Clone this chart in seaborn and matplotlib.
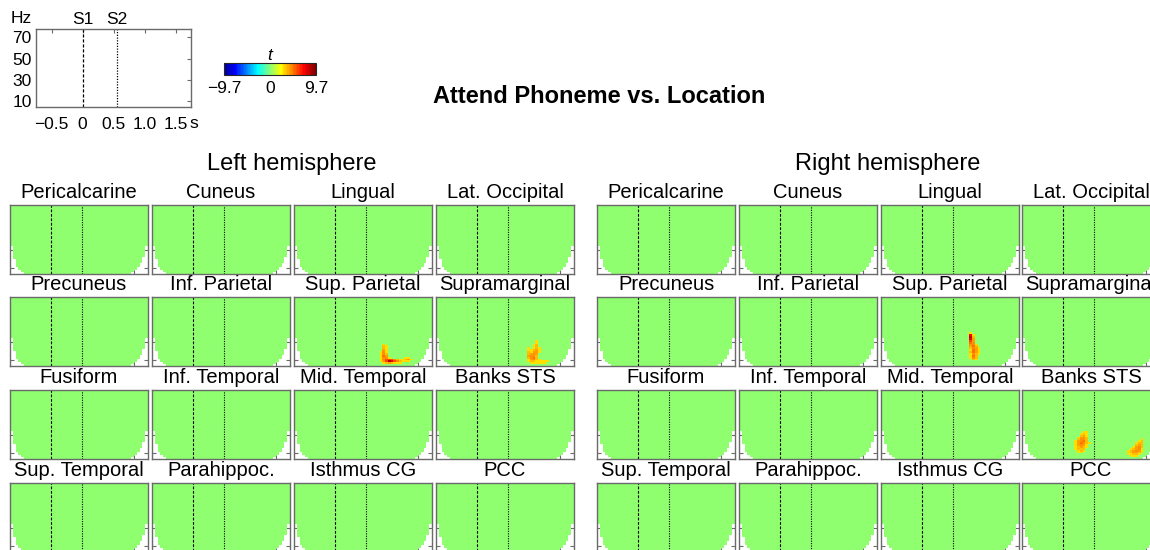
import numpy as np
import pandas as pd
import matplotlib
matplotlib.use("Agg")
import matplotlib.pyplot as plt
import seaborn as sns
from matplotlib.colors import ListedColormap, Normalize
from matplotlib.cm import ScalarMappable

# ---------------- data ----------------
t_start, t_stop, t_step = -0.75, 1.75, 0.05       # time axis (s)
f_start, f_stop, f_step = 4, 78, 2                # frequency axis (Hz)
time_ticks = [-0.5, 0, 0.5, 1.0, 1.5]
time_tick_labels = ["\u22120.5", "0", "0.5", "1.0", "1.5"]
freq_ticks = [10, 30, 50, 70]
s1_time, s2_time = 0.0, 0.55
t_limit = 9.7
cbar_ticks = [-9.7, 0, 9.7]
cbar_tick_labels = ["\u22129.7", "0", "9.7"]

hemispheres = ["Left hemisphere", "Right hemisphere"]
regions = [
    ["Pericalcarine", "Cuneus", "Lingual", "Lat. Occipital"],
    ["Precuneus", "Inf. Parietal", "Sup. Parietal", "Supramarginal"],
    ["Fusiform", "Inf. Temporal", "Mid. Temporal", "Banks STS"],
    ["Sup. Temporal", "Parahippoc.", "Isthmus CG", "PCC"],
]

# number of masked (cone-of-influence) time bins per frequency row, low -> high
coi_left = [5, 4, 3, 3, 2, 2, 2, 2, 1, 1, 1, 1, 1, 1, 1]
coi_right = [6, 5, 4, 4, 3, 3, 2, 2, 2, 1, 1, 1, 1, 1, 1]

# significant t clusters: rows listed from high to low frequency
left_sup_parietal = [
    [0, 3, 0, 0, 0, 0, 0, 0, 0, 0, 0, 0],
    [0, 3.5, 3, 0, 0, 0, 0, 0, 0, 0, 0, 0],
    [0, 3.5, 3, 0, 0, 0, 0, 0, 0, 0, 0, 0],
    [0, 4, 3, 0, 0, 0, 0, 0, 0, 0, 0, 0],
    [3, 4.5, 3, 0, 0, 0, 0, 0, 0, 0, 0, 0],
    [3, 4.5, 3.5, 0, 0, 0, 0, 0, 0, 0, 0, 0],
    [3, 5, 4, 0, 0, 0, 0, 0, 0, 0, 0, 0],
    [3, 4.5, 4.5, 3, 0, 0, 0, 0, 0, 3, 3, 0],
    [3, 4.5, 5.5, 6, 5.5, 4.5, 3.5, 3, 3, 3.5, 4, 3],
    [3, 4, 6, 8.5, 7, 5.5, 4.5, 3.5, 3, 3, 3, 0],
    [0, 3, 3.5, 4, 3.5, 3, 3, 3, 0, 0, 0, 0],
]
left_supramarginal = [
    [0, 0, 0, 3, 0, 0, 0, 0, 0],
    [0, 0, 0, 3, 0, 0, 0, 0, 0],
    [0, 0, 3, 3.5, 0, 0, 0, 0, 0],
    [0, 0, 3, 3.5, 0, 0, 0, 0, 0],
    [3, 0, 3, 3.5, 3, 0, 0, 0, 0],
    [3, 3, 3.5, 4, 3, 0, 0, 0, 0],
    [3.5, 3, 4, 4, 3, 0, 0, 0, 0],
    [3.5, 4, 4.5, 4, 0, 0, 0, 0, 0],
    [4, 4.5, 4.5, 3.5, 0, 0, 0, 0, 0],
    [3.5, 4.5, 5, 3.5, 0, 0, 0, 0, 0],
    [3, 4, 4.5, 3.5, 3, 0, 0, 0, 0],
    [3, 3.5, 3.5, 3, 3, 3, 3, 3, 0],
    [0, 3, 3, 3, 3, 3, 3, 0, 0],
]
right_sup_parietal = [
    [3, 0, 0, 0],
    [7, 3, 0, 0],
    [8, 3.5, 0, 0],
    [7.5, 4, 0, 0],
    [6, 4, 0, 0],
    [5, 4.5, 0, 0],
    [4.5, 4.5, 3, 0],
    [4, 5, 3.5, 0],
    [3.5, 4.5, 4, 3],
    [3, 5, 4, 3],
    [3.5, 5, 4, 3],
    [3, 4.5, 3.5, 3],
    [3, 5, 3.5, 0],
    [3, 4.5, 3.5, 0],
    [0, 3.5, 3, 0],
]
right_banks_early = [
    [0, 0, 0, 3, 3, 0],
    [0, 0, 3, 3.5, 3, 0],
    [0, 0, 3.5, 4, 3, 0],
    [0, 3, 4, 4.5, 3.5, 0],
    [0, 3.5, 4.5, 4.5, 3.5, 0],
    [3, 4, 4.5, 5, 3.5, 0],
    [3, 4, 5, 4.5, 3.5, 3],
    [3, 4, 4.5, 4, 3, 0],
    [3, 3.5, 4, 3.5, 3, 0],
    [3, 3.5, 3.5, 3.5, 0, 0],
    [0, 3, 3.5, 3, 0, 0],
    [0, 3, 3, 0, 0, 0],
]
right_banks_late = [
    [0, 0, 0, 0, 0, 3, 0],
    [0, 0, 0, 0, 3, 3.5, 0],
    [0, 0, 0, 3, 3.5, 3.5, 0],
    [0, 0, 0, 3.5, 4, 3.5, 0],
    [0, 0, 3, 4, 4.5, 3.5, 0],
    [0, 3, 3.5, 4, 4.5, 3, 0],
    [3, 3.5, 4, 4.5, 4, 3, 0],
    [3, 3.5, 4, 4, 3.5, 3, 0],
    [3, 3, 3.5, 3.5, 3, 0, 0],
    [0, 3, 3, 3, 0, 0, 0],
]
# (hemisphere, region) -> list of (cluster, left time edge, lowest row frequency)
clusters = {
    ("Left hemisphere", "Sup. Parietal"): [(left_sup_parietal, 0.80, 7)],
    ("Left hemisphere", "Supramarginal"): [(left_supramarginal, 0.90, 7)],
    ("Right hemisphere", "Sup. Parietal"): [(right_sup_parietal, 0.85, 11)],
    ("Right hemisphere", "Banks STS"): [(right_banks_early, 0.20, 11),
                                        (right_banks_late, 1.15, 7)],
}

# ---------------- style ----------------
sns.set_theme(style="white")
plt.rcParams["font.family"] = ["Liberation Sans", "DejaVu Sans"]
plt.rcParams["axes.unicode_minus"] = True
plt.rcParams["text.color"] = "black"
plt.rcParams["xtick.labelcolor"] = "black"
plt.rcParams["ytick.labelcolor"] = "black"


def matlab_jet(m=64):
    n = int(np.ceil(m / 4))
    u = np.concatenate([np.arange(1, n + 1) / n, np.ones(n - 1), np.arange(n, 0, -1) / n])
    g = int(np.ceil(n / 2)) - (1 if m % 4 == 1 else 0) + np.arange(1, len(u) + 1)
    r = g + n
    b = g - n
    J = np.zeros((m, 3))
    ok = r <= m
    J[r[ok] - 1, 0] = u[ok]
    ok = g <= m
    J[g[ok] - 1, 1] = u[ok]
    ok = b >= 1
    J[b[ok] - 1, 2] = u[ok]
    return ListedColormap(J)


jet = matlab_jet(64)

n_t = int(round((t_stop - t_start) / t_step))
n_f = int(round((f_stop - f_start) / f_step))
time_centers = np.round(t_start + t_step * (np.arange(n_t) + 0.5), 3)
freq_centers = f_start + f_step * (np.arange(n_f) + 0.5)

W, H = 1150, 550
fig = plt.figure(figsize=(W / 100, H / 100), dpi=100)


def add_axes_px(x, y, w, h):
    return fig.add_axes([x / W, 1 - (y + h) / H, w / W, h / H])


def tx(t):
    return (t - t_start) / t_step


def fy(f):
    return (f_stop - f) / f_step


spine_col = "#6a6a6a"
small_fs = 12.5

# ---------------- header axes ----------------
ax0 = add_axes_px(36, 29, 155, 78)
ax0.set_xlim(t_start, t_stop)
ax0.set_ylim(f_start, f_stop)
ax0.set_xticks(time_ticks)
ax0.set_xticklabels(time_tick_labels)
ax0.set_yticks(freq_ticks)
ax0.tick_params(direction="in", length=3, width=0.8, color=spine_col,
                top=True, right=True, labelsize=small_fs)
ax0.tick_params(axis="x", pad=7)
ax0.tick_params(axis="y", pad=3)
for sp in ax0.spines.values():
    sp.set_color(spine_col)
    sp.set_linewidth(1)
ax0.axvline(s1_time, color="black", lw=0.9, ls=(0, (2.5, 1.5)))
ax0.axvline(s2_time, color="black", lw=0.9, ls=(0, (1, 1.2)))
ax0.text(s1_time, 1.03, "S1", transform=ax0.get_xaxis_transform(),
         ha="center", va="bottom", fontsize=small_fs)
ax0.text(s2_time, 1.03, "S2", transform=ax0.get_xaxis_transform(),
         ha="center", va="bottom", fontsize=small_fs)
fig.text(11 / W, 1 - 23 / H, "Hz", fontsize=small_fs, ha="left", va="baseline")
fig.text(194 / W, 1 - 128 / H, "s", fontsize=small_fs, ha="center", va="baseline")

# colorbar
cax = add_axes_px(224, 63, 92, 12)
cb = fig.colorbar(ScalarMappable(norm=Normalize(-t_limit, t_limit), cmap=jet),
                  cax=cax, orientation="horizontal")
cb.set_ticks(cbar_ticks)
cb.set_ticklabels(cbar_tick_labels)
cb.ax.tick_params(length=0, labelsize=small_fs, pad=4)
cb.outline.set_linewidth(0.8)
cax.set_title("t", style="italic", fontsize=small_fs, pad=1)

fig.text(599 / W, 1 - 103 / H, "Attend Phoneme vs. Location", fontsize=17,
         fontweight="bold", ha="center", va="baseline")

# ---------------- panels ----------------
block_lefts = {"Left hemisphere": [10, 152, 294, 436],
               "Right hemisphere": [597, 739, 881, 1022]}
hemi_centers = {"Left hemisphere": 292, "Right hemisphere": 888}
row_tops = [205, 297, 390, 483]
pw, ph = 138, 69

for hemi in hemispheres:
    fig.text(hemi_centers[hemi] / W, 1 - 170 / H, hemi, fontsize=17,
             ha="center", va="baseline")
    for r, row in enumerate(regions):
        for c, name in enumerate(row):
            Z = np.zeros((n_f, n_t))
            for cluster, t0, f0 in clusters.get((hemi, name), []):
                arr = np.array(cluster, dtype=float)[::-1]
                i0 = int(round((t0 - t_start) / t_step))
                j0 = int(round((f0 - freq_centers[0]) / f_step))
                Z[j0:j0 + arr.shape[0], i0:i0 + arr.shape[1]] = arr
            mask = np.zeros_like(Z, dtype=bool)
            for j, k in enumerate(coi_left):
                if k:
                    mask[j, :k] = True
            for j, k in enumerate(coi_right):
                if k:
                    mask[j, n_t - k:] = True
            df = pd.DataFrame(Z[::-1], index=freq_centers[::-1], columns=time_centers)
            mdf = pd.DataFrame(mask[::-1], index=freq_centers[::-1], columns=time_centers)
            ax = add_axes_px(block_lefts[hemi][c], row_tops[r], pw, ph)
            ax.set_facecolor("white")
            sns.heatmap(df, ax=ax, cmap=jet, vmin=-t_limit, vmax=t_limit,
                        mask=mdf, cbar=False, xticklabels=False, yticklabels=False)
            ax.set_xlabel("")
            ax.set_ylabel("")
            ax.set_xlim(0, n_t)
            ax.set_ylim(n_f, 0)
            ax.set_xticks([tx(t) for t in time_ticks])
            ax.set_yticks([fy(f) for f in freq_ticks])
            ax.tick_params(direction="in", length=3, width=0.8, color=spine_col,
                           top=True, right=True, bottom=True, left=True,
                           labelbottom=False, labelleft=False)
            for sp in ax.spines.values():
                sp.set_visible(True)
                sp.set_color(spine_col)
                sp.set_linewidth(1)
            ax.axvline(tx(s1_time), color="black", lw=0.8, ls=(0, (2.5, 1.5)))
            ax.axvline(tx(s2_time), color="black", lw=0.8, ls=(0, (1, 1.2)))
            ax.text(0.5, 1 + 7 / ph, name, transform=ax.transAxes, ha="center",
                    va="baseline", fontsize=14.5)

fig.savefig("out.png", dpi=100)
